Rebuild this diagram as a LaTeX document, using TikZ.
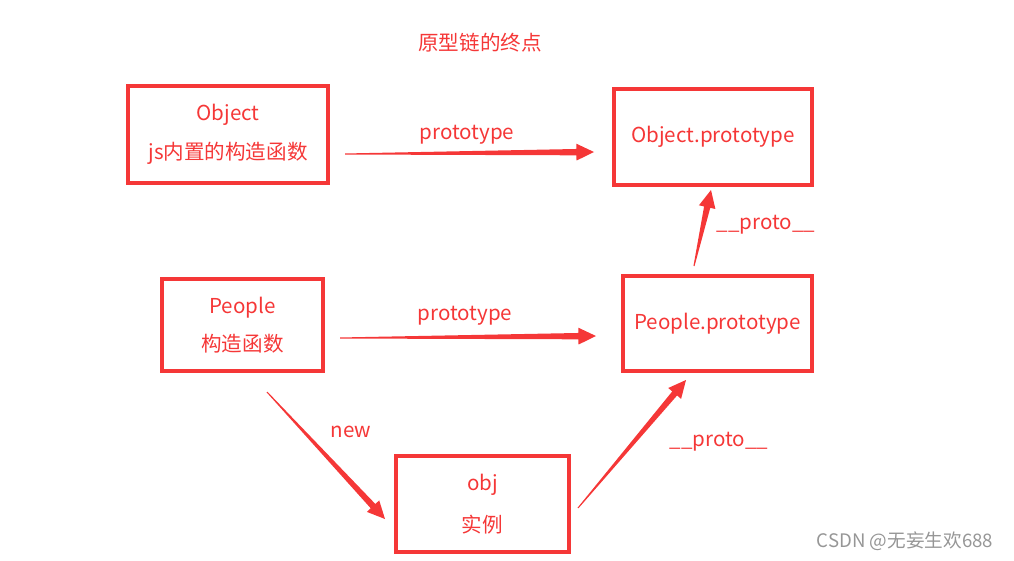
\documentclass[tikz,border=0pt]{standalone}
\usepackage{fontspec}
\setmainfont{Noto Sans CJK SC}
\usetikzlibrary{calc, positioning}
\definecolor{linkred}{RGB}{245,55,55}
\definecolor{wmgray}{RGB}{150,150,150}
\tikzset{
  objbox/.style={draw=linkred, line width=1.8pt, text=linkred, align=center,
    inner sep=0pt, font=\fontsize{11.7}{22}\selectfont},
  lbl/.style={text=linkred, font=\fontsize{11.7}{14}\selectfont},
}
% tapered arrow: thin at #1, wide head at #2
\newcommand{\taperarrow}[2]{%
  \coordinate (hb) at ($(#2)!10pt!(#1)$);
  \fill[linkred] ($(#1)!0.3pt!90:(#2)$) -- ($(hb)!1.8pt!90:(#2)$)
    -- ($(hb)!4.8pt!90:(#2)$) -- (#2) -- ($(hb)!4.8pt!-90:(#2)$)
    -- ($(hb)!1.8pt!-90:(#2)$) -- ($(#1)!0.3pt!-90:(#2)$) -- cycle;
}

\begin{document}
\begin{tikzpicture}[x=0.02cm, y=-0.02cm]
\useasboundingbox (0,0) rectangle (1014,561);

\node[lbl] (title) at (480,43) {原型链的终点};

% boxes
\node[objbox, minimum width=4cm, minimum height=1.94cm] (object) at (228,134.5) {Object\\js内置的构造函数};
\node[objbox, minimum width=3.96cm, minimum height=1.92cm] (objproto) at (713,137) {Object.prototype};
\node[objbox, minimum width=3.22cm, minimum height=1.84cm] (people) at (242.5,325) {People\\构造函数};
\node[objbox, minimum width=3.78cm, minimum height=1.9cm] (peopleproto) at (717.5,323.5) {People.prototype};
\node[objbox, minimum width=3.46cm, minimum height=1.92cm, font=\fontsize{11.7}{24}\selectfont] (obj) at (482.5,504) {obj\\实例};

% arrow ends
\coordinate (a1s) at (345,154);
\coordinate (a1e) at (594,152);
\coordinate (a2s) at (340,338);
\coordinate (a2e) at (596,336);
\coordinate (a3s) at (267,392);
\coordinate (a3e) at (385,519);
\coordinate (a4s) at (578,508);
\coordinate (a4e) at (686,380);
\coordinate (a5s) at (694,266);
\coordinate (a5e) at (711,190);

\taperarrow{a1s}{a1e}
\taperarrow{a2s}{a2e}
\taperarrow{a3s}{a3e}
\taperarrow{a4s}{a4e}
\taperarrow{a5s}{a5e}

% labels
\node[lbl] (p1) at (467,135) {prototype};
\node[lbl] (p2) at (465,316) {prototype};
\node[lbl] (new) at (351,432) {new};
\node[lbl] (pr1) at (766,225) {\_\_proto\_\_};
\node[lbl] (pr2) at (719,442) {\_\_proto\_\_};

\node[text=wmgray, font=\fontsize{10.6}{12}\selectfont] (mark) at (905,541) {CSDN @无妄生欢688};
\end{tikzpicture}
\end{document}
